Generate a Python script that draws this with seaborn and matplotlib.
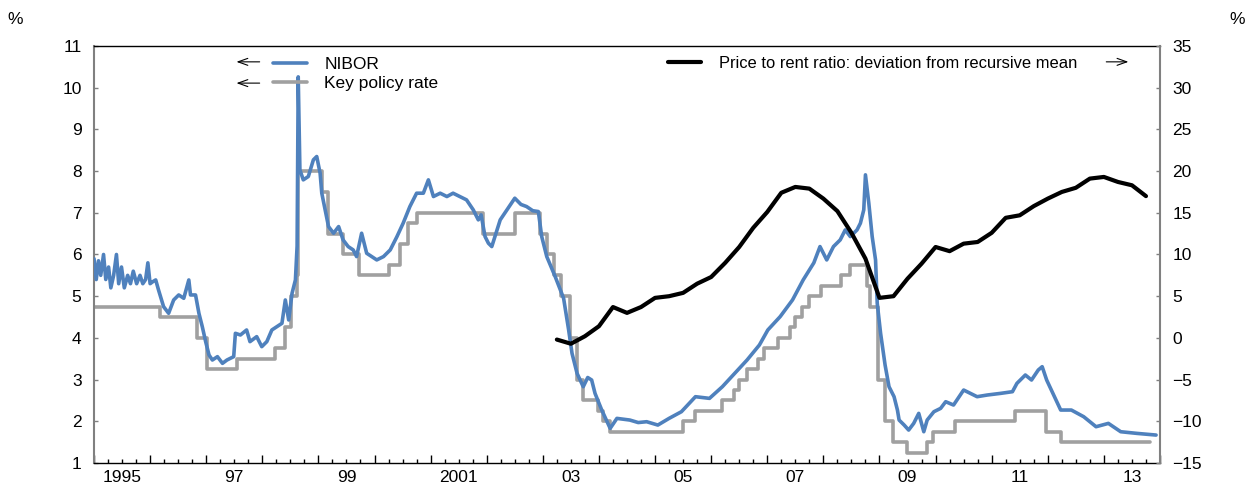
import pandas as pd
import matplotlib
matplotlib.use("Agg")
import matplotlib.pyplot as plt
import seaborn as sns

# NIBOR (decimal year, percent)
nibor_t = [1995.00, 1995.04, 1995.08, 1995.12, 1995.17, 1995.21, 1995.26, 1995.30, 1995.35, 1995.40,
           1995.44, 1995.49, 1995.54, 1995.60, 1995.65, 1995.70, 1995.76, 1995.82, 1995.87, 1995.92,
           1995.96, 1996.00, 1996.05, 1996.10, 1996.15, 1996.24, 1996.33, 1996.42, 1996.51, 1996.60,
           1996.69, 1996.72, 1996.81, 1996.87, 1996.93, 1996.99, 1997.05, 1997.11, 1997.20, 1997.29,
           1997.37, 1997.49, 1997.52, 1997.61, 1997.72, 1997.78, 1997.90, 1997.99, 1998.08, 1998.17,
           1998.26, 1998.35, 1998.41, 1998.47, 1998.53, 1998.59, 1998.62, 1998.64, 1998.67, 1998.73,
           1998.82, 1998.91, 1998.97, 1999.03, 1999.06, 1999.12, 1999.18, 1999.27, 1999.36, 1999.44,
           1999.53, 1999.62, 1999.68, 1999.77, 1999.86, 1999.95, 2000.04, 2000.16, 2000.28, 2000.40,
           2000.51, 2000.63, 2000.75, 2000.87, 2000.96, 2001.05, 2001.17, 2001.29, 2001.40, 2001.52,
           2001.64, 2001.76, 2001.85, 2001.90, 2001.97, 2002.03, 2002.09, 2002.24, 2002.36, 2002.50,
           2002.61, 2002.71, 2002.82, 2002.92, 2002.98, 2003.07, 2003.22, 2003.37, 2003.46, 2003.52,
           2003.61, 2003.72, 2003.80, 2003.87, 2003.93, 2004.05, 2004.20, 2004.32, 2004.55, 2004.70,
           2004.85, 2005.05, 2005.25, 2005.47, 2005.72, 2005.97, 2006.20, 2006.42, 2006.64, 2006.86,
           2007.01, 2007.23, 2007.45, 2007.64, 2007.83, 2007.94, 2008.06, 2008.18, 2008.30, 2008.39,
           2008.48, 2008.60, 2008.66, 2008.72, 2008.75, 2008.81, 2008.87, 2008.93, 2008.96, 2009.02,
           2009.10, 2009.17, 2009.26, 2009.32, 2009.35, 2009.44, 2009.52, 2009.61, 2009.70, 2009.79,
           2009.85, 2009.97, 2010.09, 2010.18, 2010.32, 2010.50, 2010.74, 2010.92, 2011.16, 2011.37,
           2011.45, 2011.60, 2011.71, 2011.83, 2011.90, 2011.98, 2012.12, 2012.23, 2012.42, 2012.64,
           2012.86, 2013.08, 2013.30, 2013.59, 2013.93]
nibor_v = [5.90, 5.40, 5.85, 5.50, 6.00, 5.40, 5.70, 5.20, 5.50, 6.00,
           5.30, 5.70, 5.20, 5.50, 5.30, 5.60, 5.30, 5.50, 5.30, 5.40,
           5.80, 5.30, 5.35, 5.39, 5.15, 4.75, 4.59, 4.91, 5.03, 4.95,
           5.39, 5.03, 5.03, 4.59, 4.27, 3.91, 3.59, 3.47, 3.55, 3.39,
           3.47, 3.55, 4.11, 4.07, 4.19, 3.91, 4.03, 3.79, 3.91, 4.19,
           4.27, 4.35, 4.91, 4.43, 5.07, 5.39, 6.20, 10.26, 8.03, 7.79,
           7.87, 8.27, 8.35, 7.95, 7.47, 7.07, 6.67, 6.51, 6.67, 6.35,
           6.19, 6.11, 5.95, 6.51, 6.03, 5.95, 5.87, 5.95, 6.11, 6.43,
           6.75, 7.15, 7.47, 7.47, 7.79, 7.39, 7.47, 7.39, 7.47, 7.39,
           7.31, 7.07, 6.83, 6.95, 6.43, 6.27, 6.19, 6.83, 7.07, 7.35,
           7.20, 7.15, 7.05, 7.03, 6.43, 5.95, 5.47, 4.95, 4.19, 3.63,
           3.15, 2.83, 3.05, 2.99, 2.67, 2.27, 1.83, 2.07, 2.03, 1.97,
           1.99, 1.91, 2.07, 2.23, 2.59, 2.55, 2.83, 3.15, 3.47, 3.83,
           4.19, 4.51, 4.91, 5.39, 5.80, 6.19, 5.87, 6.19, 6.35, 6.59,
           6.43, 6.59, 6.75, 7.07, 7.91, 7.23, 6.43, 5.87, 4.83, 4.11,
           3.35, 2.83, 2.59, 2.27, 2.03, 1.91, 1.79, 1.95, 2.19, 1.75,
           2.03, 2.23, 2.31, 2.47, 2.39, 2.75, 2.59, 2.63, 2.67, 2.71,
           2.91, 3.11, 2.99, 3.23, 3.31, 2.99, 2.59, 2.27, 2.27, 2.11,
           1.87, 1.95, 1.75, 1.71, 1.67]

# key policy rate: start of each level, last entry is the end of the series
policy_t = [1995.00, 1996.18, 1996.83, 1997.01, 1997.54, 1998.23, 1998.40, 1998.52, 1998.61, 1998.64,
            1999.07, 1999.17, 1999.43, 1999.73, 2000.26, 2000.45, 2000.60, 2000.75, 2001.94, 2002.50,
            2002.95, 2003.07, 2003.20, 2003.33, 2003.48, 2003.61, 2003.72, 2003.99, 2004.07, 2004.19,
            2005.50, 2005.72, 2006.20, 2006.41, 2006.49, 2006.63, 2006.83, 2006.95, 2007.20, 2007.41,
            2007.49, 2007.62, 2007.74, 2007.95, 2008.31, 2008.48, 2008.77, 2008.83, 2008.97, 2009.10,
            2009.25, 2009.49, 2009.84, 2009.96, 2010.35, 2011.42, 2011.97, 2012.23, 2013.82]
policy_v = [4.75, 4.50, 4.00, 3.25, 3.50, 3.75, 4.25, 5.00, 5.50, 8.00,
            7.50, 6.50, 6.00, 5.50, 5.75, 6.25, 6.75, 7.00, 6.50, 7.00,
            6.50, 6.00, 5.50, 5.00, 4.00, 3.00, 2.50, 2.25, 2.00, 1.75,
            2.00, 2.25, 2.50, 2.75, 3.00, 3.25, 3.50, 3.75, 4.00, 4.25,
            4.50, 4.75, 5.00, 5.25, 5.50, 5.75, 5.25, 4.75, 3.00, 2.00,
            1.50, 1.25, 1.50, 1.75, 2.00, 2.25, 1.75, 1.50, 1.50]

# price to rent ratio, deviation from recursive mean (quarterly, right axis)
rent_t = [2003.25, 2003.50, 2003.75, 2004.00, 2004.25, 2004.50, 2004.75, 2005.00, 2005.25, 2005.50,
          2005.75, 2006.00, 2006.25, 2006.50, 2006.75, 2007.00, 2007.25, 2007.50, 2007.75, 2008.00,
          2008.25, 2008.50, 2008.75, 2009.00, 2009.25, 2009.50, 2009.75, 2010.00, 2010.25, 2010.50,
          2010.75, 2011.00, 2011.25, 2011.50, 2011.75, 2012.00, 2012.25, 2012.50, 2012.75, 2013.00,
          2013.25, 2013.50, 2013.75]
rent_v = [-0.2, -0.7, 0.2, 1.4, 3.7, 3.0, 3.7, 4.8, 5.0, 5.4,
          6.5, 7.3, 9.0, 10.9, 13.2, 15.1, 17.4, 18.1, 17.9, 16.7,
          15.2, 12.6, 9.5, 4.8, 5.0, 7.1, 8.9, 10.9, 10.4, 11.3,
          11.5, 12.6, 14.4, 14.7, 15.8, 16.7, 17.5, 18.0, 19.1, 19.3,
          18.7, 18.3, 17.0]

year_labels = ['1995', '97', '99', '2001', '03', '05', '07', '09', '11', '13']
label_years = [1995, 1997, 1999, 2001, 2003, 2005, 2007, 2009, 2011, 2013]

BLUE = '#4F81BD'
GREY = '#A0A0A0'

sns.set_style("white")
plt.rcParams['font.family'] = ['Liberation Sans', 'DejaVu Sans']
plt.rcParams['text.color'] = 'black'
plt.rcParams['xtick.labelcolor'] = 'black'
plt.rcParams['ytick.labelcolor'] = 'black'
FS = 12.5

df_nibor = pd.DataFrame({'t': nibor_t, 'v': nibor_v})
df_policy = pd.DataFrame({'t': policy_t, 'v': policy_v})
df_rent = pd.DataFrame({'t': rent_t, 'v': rent_v})

fig = plt.figure(figsize=(12.49, 4.86), dpi=100)
ax = fig.add_axes([94 / 1249, 23 / 486, 1066 / 1249, 417 / 486])

sns.lineplot(data=df_policy, x='t', y='v', ax=ax, color=GREY, lw=2.6,
             drawstyle='steps-post', estimator=None, sort=False, label='Key policy rate', zorder=2)
sns.lineplot(data=df_nibor, x='t', y='v', ax=ax, color=BLUE, lw=2.6,
             estimator=None, sort=False, label='NIBOR', zorder=3)

ax.set_xlim(1995, 2014)
ax.set_ylim(1, 11)
ax.set_yticks(range(1, 12))
ax.set_xlabel('')
ax.set_ylabel('')

# year ticks (major) and quarter ticks (minor), labels centred on the year
ax.set_xticks(range(1995, 2015))
ax.set_xticks([y + q / 4 for y in range(1995, 2014) for q in (1, 2, 3)], minor=True)
ax.set_xticklabels([])
ax.tick_params(axis='x', which='major', direction='in', length=6, width=1, color='black', bottom=True)
ax.tick_params(axis='x', which='minor', direction='in', length=3, width=1, color='black', bottom=True)
ax.tick_params(axis='y', direction='in', length=3, width=1, color='#808080', left=True,
               labelsize=FS, pad=9)
for yr, lab in zip(label_years, year_labels):
    ax.text(yr + 0.5, -0.017, lab, transform=ax.get_xaxis_transform(),
            ha='center', va='top', fontsize=FS)

for side in ['top', 'bottom']:
    ax.spines[side].set_color('black')
    ax.spines[side].set_linewidth(1)
ax.spines['left'].set_color('#808080')
ax.spines['left'].set_linewidth(1.5)
ax.spines['right'].set_visible(False)

handles, labels = ax.get_legend_handles_labels()
order = [labels.index('NIBOR'), labels.index('Key policy rate')]
ax.legend([handles[i] for i in order], [labels[i] for i in order],
          loc='upper left', bbox_to_anchor=(0.168, 0.975), frameon=False,
          borderpad=0, borderaxespad=0, handlelength=1.95, handletextpad=1.0,
          labelspacing=0.25, fontsize=FS)

ax2 = ax.twinx()
sns.lineplot(data=df_rent, x='t', y='v', ax=ax2, color='black', lw=3,
             estimator=None, sort=False, label='Price to rent ratio: deviation from recursive mean')
ax2.set_ylim(-15, 35)
ax2.set_yticks(range(-15, 36, 5))
ax2.set_ylabel('')
ax2.tick_params(axis='y', direction='in', length=3, width=1, color='#808080', right=True,
                labelsize=FS, pad=9)
for side in ['top', 'bottom', 'left']:
    ax2.spines[side].set_visible(False)
ax2.spines['right'].set_color('#808080')
ax2.spines['right'].set_linewidth(1.5)
ax2.legend(loc='upper left', bbox_to_anchor=(0.538, 0.976), frameon=False,
           borderpad=0, borderaxespad=0, handlelength=2.05, handletextpad=1.05, fontsize=11.9)

# direction arrows next to the legend entries
arrow = dict(arrowstyle='->,head_length=0.7,head_width=0.25', lw=0.8, color='black')
ax.annotate('', xy=(0.131, 0.962), xytext=(0.158, 0.962), xycoords='axes fraction', arrowprops=arrow)
ax.annotate('', xy=(0.131, 0.911), xytext=(0.158, 0.911), xycoords='axes fraction', arrowprops=arrow)
ax.annotate('', xy=(0.973, 0.962), xytext=(0.947, 0.962), xycoords='axes fraction', arrowprops=arrow)

fig.text(15 / 1249, 1 - 20 / 486, '%', ha='center', va='center', fontsize=FS)
fig.text(1237 / 1249, 1 - 20 / 486, '%', ha='center', va='center', fontsize=FS)

fig.savefig('out.png', dpi=100)
